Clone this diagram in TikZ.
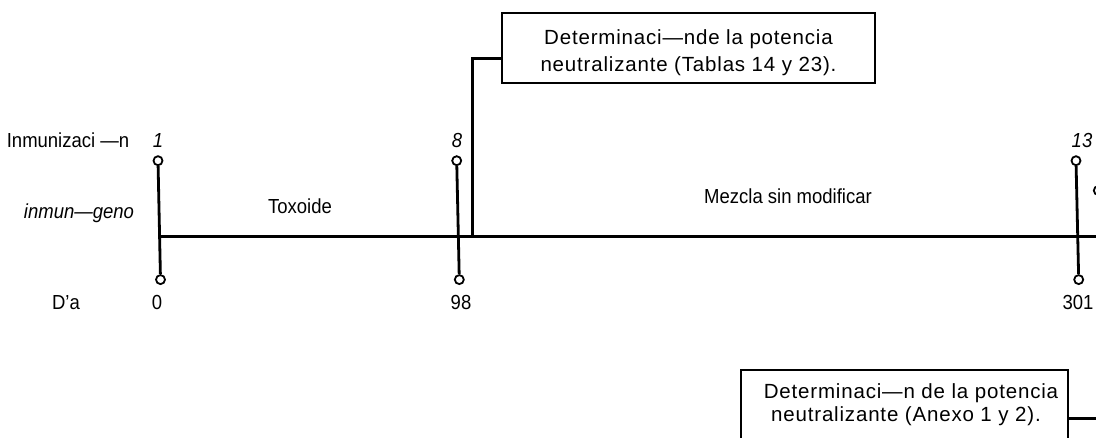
\documentclass[tikz,border=0pt]{standalone}
\usepackage{fontspec}
\usepackage{graphicx}
\setmainfont{Liberation Sans}
\newfontfamily\boxfont[LetterSpace=4]{Liberation Sans}
\newcommand{\tallx}[1]{\scalebox{1}[1.1]{#1}}
\begin{document}
\begin{tikzpicture}[x=1pt,y=-1pt,
  lbl/.style={inner sep=0pt,anchor=base,font=\fontsize{18.5}{22}\selectfont},
  ilbl/.style={lbl,font=\fontsize{18.5}{22}\selectfont\itshape},
  btxt/.style={inner sep=0pt,anchor=base,font=\boxfont\fontsize{20.5}{24}\selectfont},
  dot/.style={circle,draw,line width=1.8pt,minimum size=9pt,inner sep=0pt},
  tickline/.style={line width=2.8pt},
  mainline/.style={line width=3.6pt},
  conn/.style={line width=3pt},
  box/.style={draw,line width=1.8pt,inner sep=0pt}]
\clip (0,0) rectangle (1096,437);
% main line
\coordinate (m0) at (159.5,236.5);
\coordinate (mend) at (1110,236.5);
\draw[mainline] (m0) -- (mend);
% ticks
\node[dot] (c1t) at (158,160.7) {};
\node[dot] (c1b) at (160.5,279.6) {};
\node[dot] (c8t) at (456.7,160.7) {};
\node[dot] (c8b) at (459.3,279.6) {};
\node[dot] (c13t) at (1076,160.7) {};
\node[dot] (c13b) at (1078.7,279.6) {};
\node[dot] (cx) at (1098.3,190.5) {};
\draw[tickline] (c1t) -- (c1b);
\draw[tickline] (c8t) -- (c8b);
\draw[tickline] (c13t) -- (c13b);
% left labels
\node[lbl] (linm) at (68,147) {\tallx{Inmunizaci —n}};
\node[ilbl] (lgen) at (79,218) {\tallx{inmun—geno}};
\node[lbl] (ldia) at (66,309) {\tallx{D’a}};
% tick labels
\node[ilbl] (n1) at (158,147.5) {\tallx{1}};
\node[ilbl] (n8) at (457,147.5) {\tallx{8}};
\node[ilbl] (n13) at (1082,147.5) {\tallx{13}};
\node[lbl] (d0) at (157,309) {\tallx{0}};
\node[lbl] (d98) at (461,309) {\tallx{98}};
\node[lbl] (d301) at (1078,309) {\tallx{301}};
% period labels
\node[lbl] (tox) at (300,213) {\tallx{Toxoide}};
\node[lbl] (mez) at (788,203) {\tallx{Mezcla sin modificar}};
% top box
\node[box,minimum width=373pt,minimum height=70pt] (b1) at (688.5,48) {};
\node[btxt] (t1a) at (688.5,44) {Determinaci—nde la potencia};
\node[btxt] (t1b) at (688.5,71) {neutralizante (Tablas 14 y 23).};
\coordinate (j1) at (472.5,236.5);
\draw[conn] (j1) |- ([yshift=-10pt]b1.west);
% bottom box
\node[box,minimum width=327pt,minimum height=100pt] (b2) at (904.5,420) {};
\node[btxt] (t2a) at (911,398) {Determinaci—n de la potencia};
\node[btxt] (t2b) at (906,421) {neutralizante (Anexo 1 y 2).};
\coordinate (e2) at (1110,418);
\draw[conn] ([yshift=2pt]b2.east) -- (e2);
\end{tikzpicture}
\end{document}
